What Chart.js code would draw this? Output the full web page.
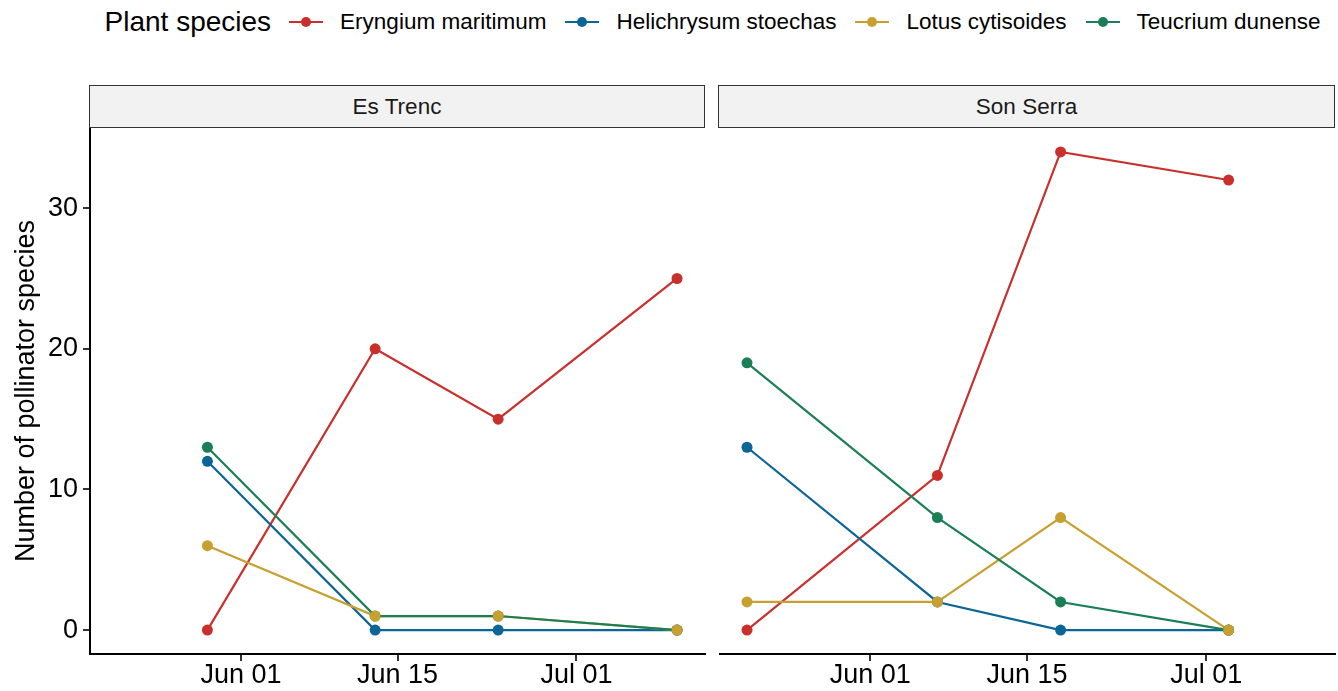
<!DOCTYPE html>
<html>
<head>
<meta charset="utf-8">
<script src="https://cdn.jsdelivr.net/npm/chart.js@4.4.1/dist/chart.umd.min.js"></script>
<style>
  html, body { margin: 0; padding: 0; background: #fff; }
  body { width: 1338px; height: 691px; position: relative; overflow: hidden; font-family: "Liberation Sans", Arial, sans-serif; }
  #legend { position: absolute; left: 90px; top: 0; width: 1245px; height: 44px; display: flex; align-items: center; justify-content: center; color: #000; }
  .leg-title { font-size: 28px; margin-right: 18px; }
  .leg-item { display: flex; align-items: center; font-size: 22.5px; margin-right: 19px; }
  .leg-item:last-child { margin-right: 0; }
  .leg-key { position: relative; width: 34px; height: 12px; margin-right: 17px; }
  .leg-key .ln { position: absolute; left: 0; right: 0; top: 5px; height: 2px; }
  .leg-key .dt { position: absolute; left: 12px; top: 1px; width: 10px; height: 10px; border-radius: 50%; }
  .strip { position: absolute; top: 85px; height: 41px; box-sizing: content-box; border: 1.5px solid #333; background: #F2F2F2;
           font-size: 22.5px; color: #1a1a1a; display: flex; align-items: center; justify-content: center; }
  .wrap { position: absolute; top: 128px; height: 563px; }
</style>
</head>
<body>
<div id="legend"></div>
<div class="strip" style="left:89px; width:614px;">Es Trenc</div>
<div class="strip" style="left:718px; width:615px;">Son Serra</div>
<div class="wrap" style="left:0; width:710px;"><canvas id="esTrenc"></canvas></div>
<div class="wrap" style="left:719px; width:619px;"><canvas id="sonSerra"></canvas></div>

<script>
// plant species and their colours
var speciesNames = ['Eryngium maritimum', 'Helichrysum stoechas', 'Lotus cytisoides', 'Teucrium dunense'];
var speciesColors = ['#C9302C', '#0B6596', '#C8A02F', '#1A7F56'];

// Es Trenc sampling dates and counts
var esTrencDates = ['2021-05-29', '2021-06-13', '2021-06-24', '2021-07-10'];
var esTrencEryngium = [0, 20, 15, 25];
var esTrencHelichrysum = [12, 0, 0, 0];
var esTrencLotus = [6, 1, 1, 0];
var esTrencTeucrium = [13, 1, 1, 0];

// Son Serra sampling dates and counts
var sonSerraDates = ['2021-05-21', '2021-06-07', '2021-06-18', '2021-07-03'];
var sonSerraEryngium = [0, 11, 34, 32];
var sonSerraHelichrysum = [13, 2, 0, 0];
var sonSerraLotus = [2, 2, 8, 0];
var sonSerraTeucrium = [19, 8, 2, 0];

// axis ticks
var xTickDates = ['2021-06-01', '2021-06-15', '2021-07-01'];
var xTickLabels = ['Jun 01', 'Jun 15', 'Jul 01'];
var yTicks = [0, 10, 20, 30];

// draw order (lower = on top): all lines first, then all points
var lineOrder = [7, 6, 5, 4];
var pointOrder = [3, 2, 0, 1];

function dayNum(s) {
  return Date.parse(s + 'T00:00:00Z') / 86400000;
}

// shared x range (ggplot style 5% expansion)
var allDays = esTrencDates.concat(sonSerraDates).map(dayNum);
var dMin = Math.min.apply(null, allDays), dMax = Math.max.apply(null, allDays);
var xMin = dMin - (dMax - dMin) * 0.05, xMax = dMax + (dMax - dMin) * 0.05;
var yMin = -1.7, yMax = 35.7;

// legend
var legend = document.getElementById('legend');
var t = document.createElement('span');
t.className = 'leg-title';
t.textContent = 'Plant species';
legend.appendChild(t);
speciesNames.forEach(function (name, i) {
  var item = document.createElement('div');
  item.className = 'leg-item';
  item.innerHTML = '<span class="leg-key"><span class="ln" style="background:' + speciesColors[i] + '"></span>' +
    '<span class="dt" style="background:' + speciesColors[i] + '"></span></span><span></span>';
  item.lastChild.textContent = name;
  legend.appendChild(item);
});

function makeDatasets(dates, series) {
  var out = [];
  series.forEach(function (vals, i) {
    var pts = dates.map(function (d, j) { return { x: dayNum(d), y: vals[j] }; });
    // line layer
    out.push({
      label: speciesNames[i],
      data: pts,
      borderColor: speciesColors[i],
      borderWidth: 2.2,
      pointRadius: 0,
      tension: 0,
      order: lineOrder[i]
    });
    // point layer
    out.push({
      label: speciesNames[i],
      data: pts,
      showLine: false,
      borderColor: speciesColors[i],
      backgroundColor: speciesColors[i],
      pointBackgroundColor: speciesColors[i],
      pointBorderWidth: 0,
      pointRadius: 5.5,
      order: pointOrder[i]
    });
  });
  return out;
}

function makeOptions(showY) {
  return {
    responsive: true,
    maintainAspectRatio: false,
    animation: false,
    layout: { autoPadding: false, padding: { left: 0, right: showY ? 5 : 3, top: 0, bottom: 0 } },
    plugins: { legend: { display: false }, tooltip: { enabled: false } },
    scales: {
      x: {
        type: 'linear',
        min: xMin,
        max: xMax,
        afterBuildTicks: function (scale) {
          scale.ticks = xTickDates.map(function (d) { return { value: dayNum(d) }; });
        },
        afterFit: function (scale) {
          scale.height = 37;
          scale.paddingLeft = 0; scale.paddingRight = 0;
        },
        ticks: {
          autoSkip: false,
          maxRotation: 0,
          padding: -2,
          color: '#000',
          font: { family: 'Liberation Sans', size: 27 },
          callback: function (v, idx) { return xTickLabels[idx]; }
        },
        grid: { drawOnChartArea: false, drawTicks: true, tickLength: 7, color: '#333', lineWidth: 2 },
        border: { display: true, color: '#000', width: 2 }
      },
      y: {
        display: showY,
        min: yMin,
        max: yMax,
        afterBuildTicks: function (scale) {
          scale.ticks = yTicks.map(function (v) { return { value: v }; });
        },
        afterFit: function (scale) {
          scale.width = showY ? 90 : 0;
          scale.paddingTop = 0; scale.paddingBottom = 0;
        },
        ticks: {
          padding: 5,
          color: '#000',
          font: { family: 'Liberation Sans', size: 27 }
        },
        title: {
          display: true,
          text: 'Number of pollinator species',
          color: '#000',
          font: { family: 'Liberation Sans', size: 27 },
          padding: { top: 10, bottom: 0 }
        },
        grid: { drawOnChartArea: false, drawTicks: true, tickLength: 7, color: '#333', lineWidth: 2 },
        border: { display: true, color: '#000', width: 2 }
      }
    }
  };
}

new Chart(document.getElementById('esTrenc').getContext('2d'), {
  type: 'line',
  data: { datasets: makeDatasets(esTrencDates, [esTrencEryngium, esTrencHelichrysum, esTrencLotus, esTrencTeucrium]) },
  options: makeOptions(true)
});

new Chart(document.getElementById('sonSerra').getContext('2d'), {
  type: 'line',
  data: { datasets: makeDatasets(sonSerraDates, [sonSerraEryngium, sonSerraHelichrysum, sonSerraLotus, sonSerraTeucrium]) },
  options: makeOptions(false)
});
</script>
</body>
</html>
